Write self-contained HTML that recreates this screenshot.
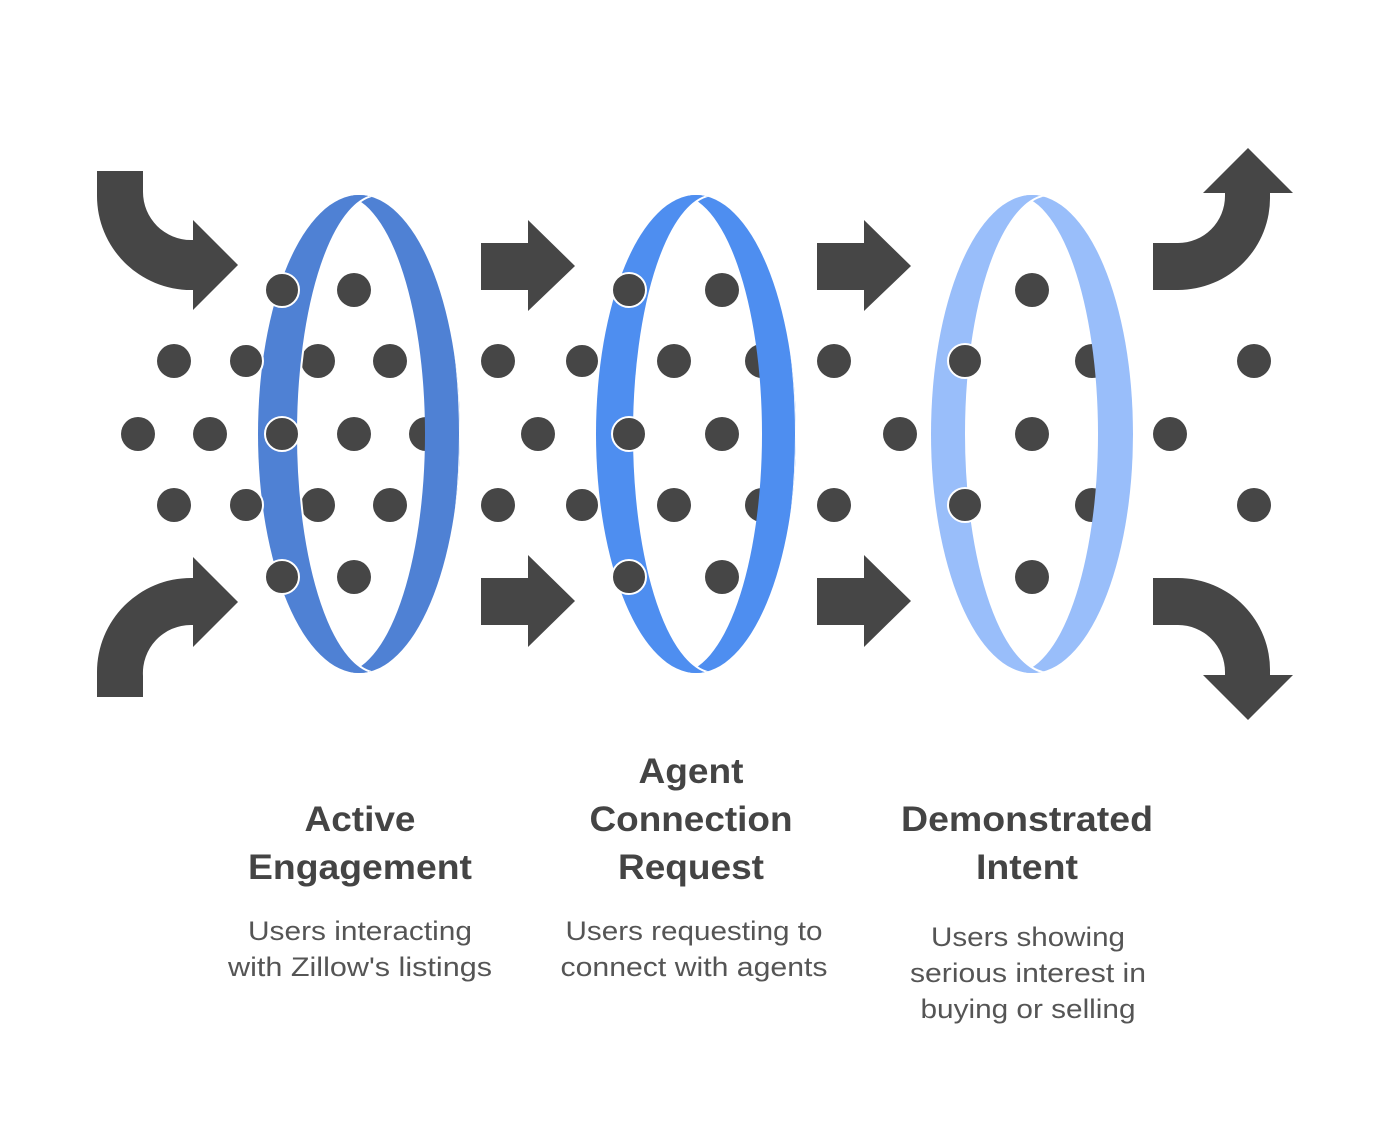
<!DOCTYPE html>
<html><head><meta charset="utf-8"><style>html,body{margin:0;padding:0;background:#fff}svg{display:block}</style></head>
<body>
<svg width="1392" height="1130" viewBox="0 0 1392 1130" xmlns="http://www.w3.org/2000/svg" font-family="Liberation Sans, Arial, sans-serif">
<defs>
<clipPath id="c1"><ellipse cx="359" cy="434" rx="101" ry="239"/></clipPath>
<clipPath id="c2"><ellipse cx="696" cy="434" rx="100" ry="239"/></clipPath>
<clipPath id="c3"><ellipse cx="1032" cy="434" rx="101" ry="239"/></clipPath>
</defs>
<g fill="#464646">
<path d="M97,171 L143,171 L143,192 A48,48 0 0 0 191,240 L193,240 L193,220 L238,265 L193,310 L193,290 L191,290 A94,94 0 0 1 97,196 Z"/>
<path d="M97,697 L143,697 L143,676 A48,48 0 0 1 191,625 L193,625 L193,557 L238,602 L193,647 L193,578 L191,578 A94,94 0 0 0 97,672 Z"/>
<path d="M1153,243 L1178,243 A47,47 0 0 0 1225,196 L1225,193 L1203,193 L1248,148 L1293,193 L1270,193 L1270,196 A92,92 0 0 1 1178,290 L1153,290 Z"/>
<path d="M1153,625 L1178,625 A47,47 0 0 1 1225,672 L1225,675 L1203,675 L1248,720 L1293,675 L1270,675 L1270,672 A92,92 0 0 0 1178,578 L1153,578 Z"/>
<path d="M481,243 L528,243 L528,220 L575,266 L528,311 L528,290 L481,290 Z"/>
<path d="M817,243 L864,243 L864,220 L911,266 L864,311 L864,290 L817,290 Z"/>
<path d="M481,578 L528,578 L528,555 L575,601 L528,647 L528,625 L481,625 Z"/>
<path d="M817,578 L864,578 L864,555 L911,601 L864,647 L864,625 L817,625 Z"/>
<circle cx="354" cy="290" r="17"/><circle cx="354" cy="577" r="17"/>
<circle cx="174" cy="361" r="17"/><circle cx="318" cy="361" r="17"/><circle cx="390" cy="361" r="17"/>
<circle cx="138" cy="434" r="17"/><circle cx="210" cy="434" r="17"/><circle cx="354" cy="434" r="17"/><circle cx="426" cy="434" r="17"/>
<circle cx="174" cy="505" r="17"/><circle cx="318" cy="505" r="17"/><circle cx="390" cy="505" r="17"/>
<circle cx="498" cy="361" r="17"/><circle cx="498" cy="505" r="17"/><circle cx="538" cy="434" r="17"/>
<circle cx="722" cy="290" r="17"/><circle cx="722" cy="434" r="17"/><circle cx="722" cy="577" r="17"/>
<circle cx="674" cy="361" r="17"/><circle cx="674" cy="505" r="17"/><circle cx="762" cy="361" r="17"/><circle cx="762" cy="505" r="17"/>
<circle cx="834" cy="361" r="17"/><circle cx="834" cy="505" r="17"/><circle cx="900" cy="434" r="17"/>
<circle cx="1032" cy="290" r="17"/><circle cx="1032" cy="434" r="17"/><circle cx="1032" cy="577" r="17"/>
<circle cx="1092" cy="361" r="17"/><circle cx="1092" cy="505" r="17"/>
<circle cx="1170" cy="434" r="17"/><circle cx="1254" cy="361" r="17"/><circle cx="1254" cy="505" r="17"/>
</g>
<!-- ring 1 -->
<g clip-path="url(#c1)" fill-rule="evenodd">
<path fill="#4F81D4" d="M200,150 H520 V720 H200 Z M257,434 A84,239 0 1 0 425,434 A84,239 0 1 0 257,434 Z"/>
<path fill="#4F81D4" stroke="#fff" stroke-width="2" d="M200,150 H520 V720 H200 Z M298,434 A81,239 0 1 0 460,434 A81,239 0 1 0 298,434 Z"/>
</g>
<!-- ring 2 -->
<g clip-path="url(#c2)" fill-rule="evenodd">
<path fill="#4E8EF0" d="M540,150 H860 V720 H540 Z M594,434 A84,239 0 1 0 762,434 A84,239 0 1 0 594,434 Z"/>
<path fill="#4E8EF0" stroke="#fff" stroke-width="2" d="M540,150 H860 V720 H540 Z M634,434 A81,239 0 1 0 796,434 A81,239 0 1 0 634,434 Z"/>
</g>
<!-- ring 3 -->
<g clip-path="url(#c3)" fill-rule="evenodd">
<path fill="#99BEFA" d="M870,150 H1200 V720 H870 Z M930,434 A84,239 0 1 0 1098,434 A84,239 0 1 0 930,434 Z"/>
<path fill="#99BEFA" stroke="#fff" stroke-width="2" d="M870,150 H1200 V720 H870 Z M966,434 A84,239 0 1 0 1134,434 A84,239 0 1 0 966,434 Z"/>
</g>
<g fill="#464646" stroke="#fff" stroke-width="2">
<circle cx="246" cy="361" r="17"/><circle cx="246" cy="505" r="17"/>
<circle cx="282" cy="290" r="17"/><circle cx="282" cy="434" r="17"/><circle cx="282" cy="577" r="17"/>
<circle cx="582" cy="361" r="17"/><circle cx="582" cy="505" r="17"/>
<circle cx="629" cy="290" r="17"/><circle cx="629" cy="434" r="17"/><circle cx="629" cy="577" r="17"/>
<circle cx="965" cy="361" r="17"/><circle cx="965" cy="505" r="17"/>
</g>
<g fill="#444" font-weight="bold" font-size="35" text-anchor="middle">
<text x="360" y="831" textLength="111" lengthAdjust="spacingAndGlyphs">Active</text>
<text x="360" y="879" textLength="224" lengthAdjust="spacingAndGlyphs">Engagement</text>
<text x="691" y="783" textLength="105" lengthAdjust="spacingAndGlyphs">Agent</text>
<text x="691" y="831" textLength="203" lengthAdjust="spacingAndGlyphs">Connection</text>
<text x="691" y="879" textLength="146" lengthAdjust="spacingAndGlyphs">Request</text>
<text x="1027" y="831" textLength="252" lengthAdjust="spacingAndGlyphs">Demonstrated</text>
<text x="1027" y="879" textLength="102" lengthAdjust="spacingAndGlyphs">Intent</text>
</g>
<g fill="#555" font-size="27" text-anchor="middle">
<text x="360" y="940" textLength="224" lengthAdjust="spacingAndGlyphs">Users interacting</text>
<text x="360" y="976" textLength="264" lengthAdjust="spacingAndGlyphs">with Zillow's listings</text>
<text x="694" y="940" textLength="257" lengthAdjust="spacingAndGlyphs">Users requesting to</text>
<text x="694" y="976" textLength="267" lengthAdjust="spacingAndGlyphs">connect with agents</text>
<text x="1028" y="946" textLength="194" lengthAdjust="spacingAndGlyphs">Users showing</text>
<text x="1028" y="982" textLength="236" lengthAdjust="spacingAndGlyphs">serious interest in</text>
<text x="1028" y="1018" textLength="215" lengthAdjust="spacingAndGlyphs">buying or selling</text>
</g>
</svg>
</body></html>
